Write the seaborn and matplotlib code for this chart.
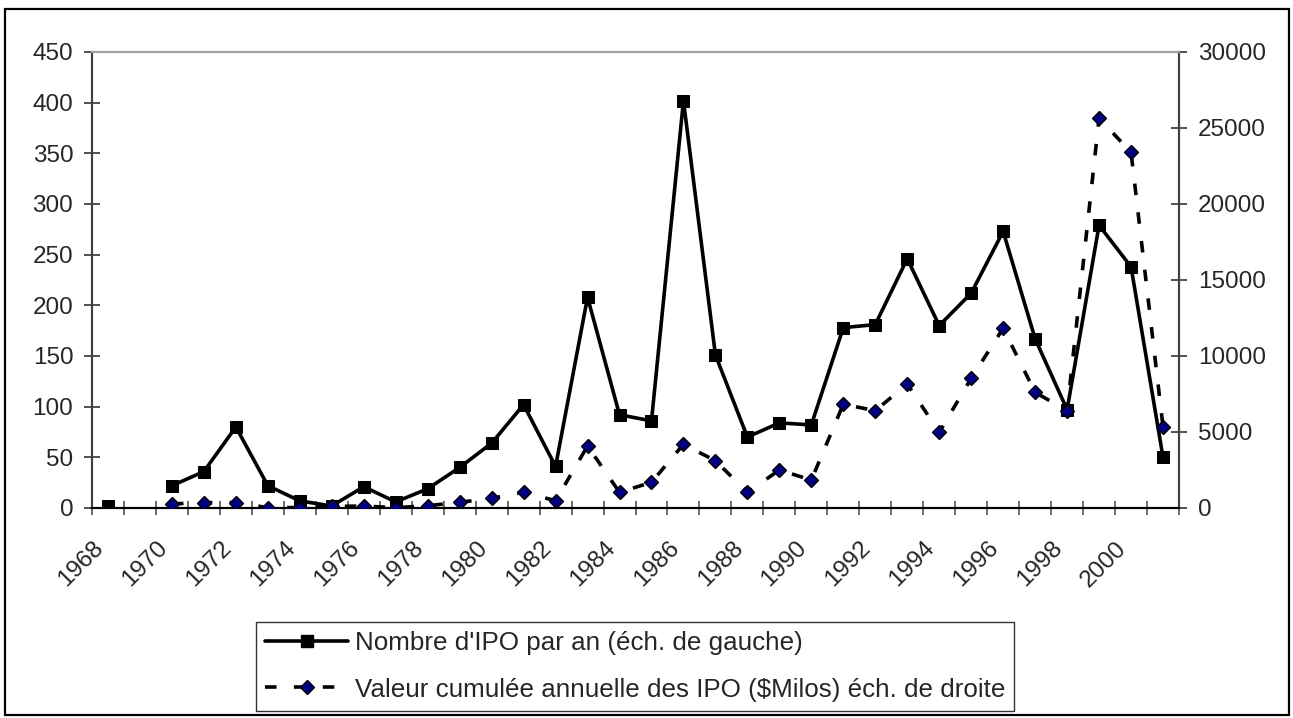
import numpy as np
import pandas as pd
import matplotlib
matplotlib.use("Agg")
import matplotlib.pyplot as plt
import matplotlib.transforms as mtransforms
from matplotlib.lines import Line2D
from matplotlib.patches import Rectangle
import seaborn as sns

# Annual IPO data
years = list(range(1968, 2002))
ipo_count = [2, np.nan, 22, 36, 80, 22, 7, 2, 21, 6, 19, 40, 64, 102, 41, 208,
             92, 86, 402, 151, 70, 84, 82, 178, 181, 246, 180, 212, 273, 167,
             97, 279, 238, 50]
ipo_value = [np.nan, np.nan, 270, 350, 360, 20, 30, 100, 130, 20, 150, 375, 640,
             1030, 480, 4080, 1030, 1690, 4190, 3110, 1030, 2500, 1840, 6830,
             6400, 8160, 4980, 8530, 11820, 7610, 6400, 25640, 23400, 5350]
label_count = "Nombre d'IPO par an (éch. de gauche)"
label_value = "Valeur cumulée annuelle des IPO ($Milos) éch. de droite"

df = pd.DataFrame({"year": years, "count": ipo_count, "value": ipo_value})
# contiguous runs so that missing years break the lines
df["seg_count"] = df["count"].isna().cumsum()
df["seg_value"] = df["value"].isna().cumsum()

sns.set_theme(style="white")
plt.rcParams["font.family"] = ["Liberation Sans", "DejaVu Sans"]

LW = 2.6
DASH = (0, (3.2, 4.8))

fig = plt.figure(figsize=(12.93, 7.18), dpi=100)
ax = fig.add_axes([92 / 1293, 1 - 508 / 718, (1179 - 92) / 1293, (508 - 52) / 718])
ax2 = ax.twinx()

sns.lineplot(data=df.dropna(subset=["count"]), x="year", y="count",
             units="seg_count", estimator=None, ax=ax, color="black",
             linewidth=LW, marker="s", markersize=9, markerfacecolor="black",
             markeredgecolor="black", legend=False, zorder=3)
sns.lineplot(data=df.dropna(subset=["value"]), x="year", y="value",
             units="seg_value", estimator=None, ax=ax2, color="black",
             linewidth=LW, dashes=False, marker="D", markersize=7.5,
             markerfacecolor="#000080", markeredgecolor="black",
             markeredgewidth=1.0, legend=False, zorder=3)
for ln in ax2.get_lines():
    ln.set_linestyle(DASH)

ax.set_xlim(1967.5, 2001.5)
ax.set_ylim(0, 450)
ax2.set_ylim(0, 30000)
ax.set_yticks(np.arange(0, 451, 50))
ax2.set_yticks(np.arange(0, 30001, 5000))
ax.set_xlabel("")
ax.set_ylabel("")
ax2.set_ylabel("")

# tick marks on category boundaries, labels every second year
ax.set_xticks(np.arange(1967.5, 2002, 1.0))
ax.set_xticklabels([])
ax.set_xticks(years[::2], minor=True)
ax.set_xticklabels([str(y) for y in years[::2]], minor=True, rotation=45,
                   ha="right", fontsize=17.5)
shift = mtransforms.ScaledTranslation(-14 / 100, 0, fig.dpi_scale_trans)
for lbl in ax.get_xticklabels(minor=True):
    lbl.set_transform(lbl.get_transform() + shift)

ax.tick_params(axis="x", which="major", direction="inout", length=10,
               width=1.2, color="#555555", bottom=True)
ax.tick_params(axis="x", which="minor", length=0, pad=21, bottom=True)
ax.tick_params(axis="y", direction="inout", length=11, width=1.2,
               color="#333333", labelsize=17.5, pad=8, left=True)
ax2.tick_params(axis="y", direction="inout", length=11, width=1.2,
                color="#333333", labelsize=17.5, pad=8, right=True)

for a in (ax, ax2):
    a.grid(False)
    a.spines["left"].set_color("#404040")
    a.spines["right"].set_color("#404040")
    a.spines["top"].set_color("#a0a0a0")
    a.spines["bottom"].set_color("black")
    for s in a.spines.values():
        s.set_linewidth(1.5)

handles = [
    Line2D([], [], color="black", linewidth=LW, marker="s", markersize=9),
    Line2D([], [], color="black", linewidth=LW, linestyle=DASH,
           marker="D", markersize=7.5, markerfacecolor="#000080",
           markeredgecolor="black"),
]
leg = fig.legend(handles, [label_count, label_value], loc="center",
                 bbox_to_anchor=(635 / 1293, 1 - 666.5 / 718), fontsize=18.7,
                 frameon=True, fancybox=False, edgecolor="black",
                 handlelength=3.2, handletextpad=0.25, labelspacing=0.85,
                 borderpad=0.35, borderaxespad=0)
leg.get_frame().set_linewidth(1.0)

# outer chart border
fig.patches.append(Rectangle((5 / 1293, 3 / 718), 1284 / 1293, 706 / 718,
                             transform=fig.transFigure, fill=False,
                             edgecolor="black", linewidth=1.6))

fig.savefig("out.png", dpi=100)
